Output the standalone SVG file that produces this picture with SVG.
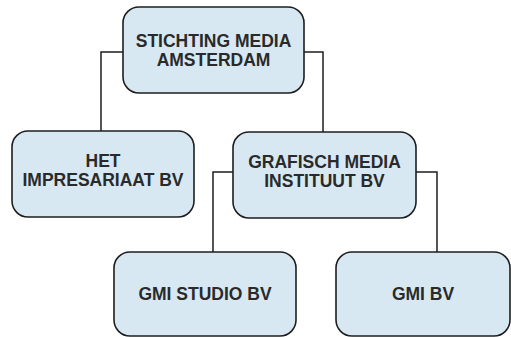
<svg xmlns="http://www.w3.org/2000/svg" width="511" height="337" viewBox="0 0 511 337">
<style>
.box{fill:#d7e8f3;stroke:#1e1e1e;stroke-width:1.6}
.lbl{font-family:"Liberation Sans",Arial,sans-serif;font-weight:bold;font-size:17.5px;fill:#2a2a2a;text-anchor:middle}
.con{fill:none;stroke:#1e1e1e;stroke-width:1.5}
</style>
<rect width="511" height="337" fill="#ffffff"/>
<g id="connectors">
<path class="con" d="M123 52 H101 V131"/>
<path class="con" d="M304 52 H323 V132"/>
<path class="con" d="M233 172 H213 V252"/>
<path class="con" d="M416 172 H437 V252"/>
</g>
<g id="stichting">
<rect class="box" x="123" y="7" width="181" height="86" rx="16"/>
<text class="lbl" x="213.5" y="46.5">STICHTING MEDIA</text>
<text class="lbl" x="213.5" y="65.5">AMSTERDAM</text>
</g>
<g id="impresariaat">
<rect class="box" x="12" y="131" width="182" height="86" rx="16"/>
<text class="lbl" x="103" y="166.5">HET</text>
<text class="lbl" x="103" y="186">IMPRESARIAAT BV</text>
</g>
<g id="gmi-instituut">
<rect class="box" x="233" y="132" width="183" height="86" rx="16"/>
<text class="lbl" x="324.5" y="167.5">GRAFISCH MEDIA</text>
<text class="lbl" x="324.5" y="186.7">INSTITUUT BV</text>
</g>
<g id="gmi-studio">
<rect class="box" x="114" y="252" width="182" height="84" rx="16"/>
<text class="lbl" x="205" y="300">GMI STUDIO BV</text>
</g>
<g id="gmi-bv">
<rect class="box" x="336" y="252" width="174" height="84" rx="16"/>
<text class="lbl" x="423" y="300">GMI BV</text>
</g>
</svg>
